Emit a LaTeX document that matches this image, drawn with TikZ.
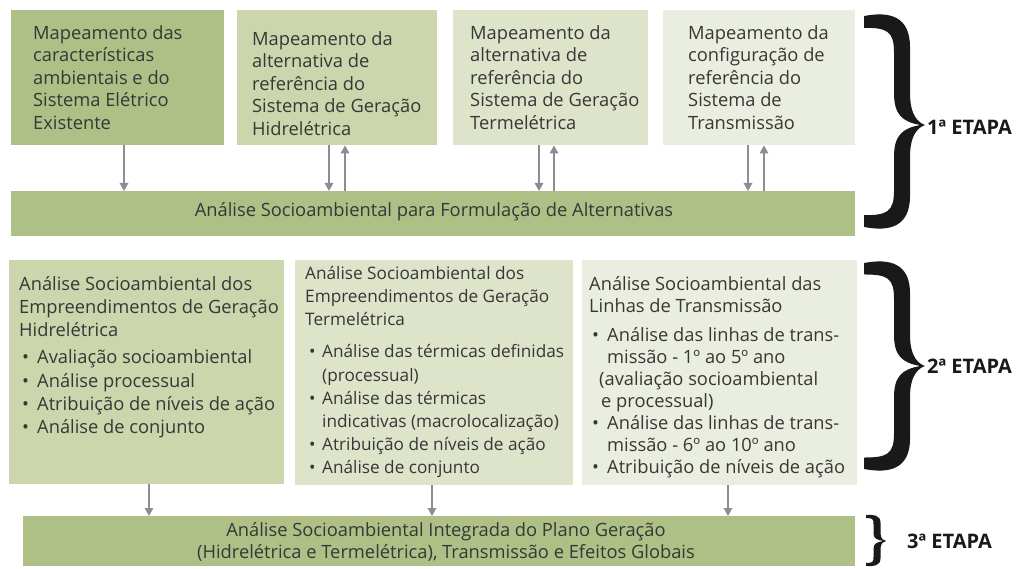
\documentclass[tikz,border=0pt]{standalone}
\usepackage{fontspec}
\setmainfont{Open Sans}
\usetikzlibrary{arrows.meta}
\definecolor{gA}{RGB}{174,192,134}
\definecolor{gB}{RGB}{203,214,173}
\definecolor{gC}{RGB}{221,228,202}
\definecolor{gD}{RGB}{234,238,224}
\definecolor{arrc}{RGB}{140,140,148}
\definecolor{tc}{RGB}{55,55,55}
\newcommand\blt[2]{\hspace*{#1pt}\makebox[#2pt][l]{•}}
\newcommand\drawbrace[7]{% xl xs xp T M B w
  \pgfmathsetmacro\bL{#1}\pgfmathsetmacro\bS{#2}\pgfmathsetmacro\bP{#3}%
  \pgfmathsetmacro\bT{#4}\pgfmathsetmacro\bM{#5}\pgfmathsetmacro\bB{#6}%
  \pgfmathsetmacro\bW{#7/2}\pgfmathsetmacro\bH{(#6-#4)/2}%
  \pgfmathsetmacro\bO{\bS+\bW}\pgfmathsetmacro\bI{\bS-\bW}%
  \pgfmathsetmacro\bD{\bS-\bL}%
  \fill[black!90] ({\bL},{\bT+0.01*\bH})
    .. controls ({\bL+0.7*\bD},{\bT-0.04*\bH}) and ({\bO},{\bT+0.02*\bH}) .. ({\bO},{\bT+0.3*\bH})
    -- ({\bO},{\bM-0.3*\bH})
    .. controls ({\bO},{\bM-0.08*\bH}) and ({\bP-0.4*(\bP-\bO)},{\bM-0.02*\bH}) .. ({\bP},{\bM})
    .. controls ({\bP-0.4*(\bP-\bO)},{\bM+0.02*\bH}) and ({\bO},{\bM+0.08*\bH}) .. ({\bO},{\bM+0.3*\bH})
    -- ({\bO},{\bB-0.3*\bH})
    .. controls ({\bO},{\bB-0.02*\bH}) and ({\bL+0.7*\bD},{\bB+0.04*\bH}) .. ({\bL},{\bB-0.01*\bH})
    -- ({\bL},{\bB-0.12*\bH})
    .. controls ({\bL+0.6*\bD},{\bB-0.12*\bH}) and ({\bI},{\bB-0.15*\bH}) .. ({\bI},{\bB-0.35*\bH})
    -- ({\bI},{\bM+0.3*\bH})
    .. controls ({\bI},{\bM+0.1*\bH}) and ({\bS},{\bM+0.03*\bH}) .. ({\bP-0.3*(\bP-\bO)},{\bM})
    .. controls ({\bS},{\bM-0.03*\bH}) and ({\bI},{\bM-0.1*\bH}) .. ({\bI},{\bM-0.3*\bH})
    -- ({\bI},{\bT+0.35*\bH})
    .. controls ({\bI},{\bT+0.15*\bH}) and ({\bL+0.6*\bD},{\bT+0.12*\bH}) .. ({\bL},{\bT+0.12*\bH})
    -- cycle;%
}
\begin{document}
\begin{tikzpicture}[x=1pt,y=-1pt,
  box/.style={draw=none,anchor=north west,inner sep=0pt},
  txt/.style={anchor=north west,inner sep=0pt,align=left,text=tc,
    font=\fontsize{18.3}{22.5}\selectfont},
  ctxt/.style={inner sep=0pt,align=center,text=tc,
    font=\fontsize{18.3}{22.5}\selectfont},
  lbl/.style={anchor=west,inner sep=0pt,text=black!90,
    font=\fontsize{20}{22}\selectfont\bfseries},
  arr/.style={draw=arrc,line width=1.6pt,-{Triangle[length=8pt,width=8.5pt]}}]
\useasboundingbox (0,0) rectangle (1018,569);
% top row boxes
\node[box,fill=gA,minimum width=213pt,minimum height=135pt] (b1) at (11,10) {};
\node[box,fill=gB,minimum width=200pt,minimum height=135pt] (b2) at (237,10) {};
\node[box,fill=gC,minimum width=195pt,minimum height=135pt] (b3) at (453,10) {};
\node[box,fill=gD,minimum width=192pt,minimum height=135pt] (b4) at (663,10) {};
\node[txt] (t1) at (33,25) {Mapeamento das\\características\\ambientais e do\\Sistema Elétrico\\Existente};
\node[txt] (t2) at (252,31) {Mapeamento da\\alternativa de\\referência do\\Sistema de Geração\\Hidrelétrica};
\node[txt] (t3) at (470,25) {Mapeamento da\\alternativa de\\referência do\\Sistema de Geração\\Termelétrica};
\node[txt] (t4) at (688,25) {Mapeamento da\\configuração de\\referência do\\Sistema de\\Transmissão};
% bar 1
\node[box,fill=gA,minimum width=844pt,minimum height=45pt] (bar1) at (11,191) {};
\node[ctxt] (bt1) at (434,212) {Análise Socioambiental para Formulação de Alternativas};
% arrows top
\coordinate (x1) at (124,0);
\coordinate (x2a) at (329,0); \coordinate (x2b) at (345,0);
\coordinate (x3a) at (539,0); \coordinate (x3b) at (554,0);
\coordinate (x4a) at (748,0); \coordinate (x4b) at (764,0);
\draw[arr] (b1.south -| x1) -- (bar1.north -| x1);
\draw[arr] (b2.south -| x2a) -- (bar1.north -| x2a);
\draw[arr] (bar1.north -| x2b) -- (b2.south -| x2b);
\draw[arr] (b3.south -| x3a) -- (bar1.north -| x3a);
\draw[arr] (bar1.north -| x3b) -- (b3.south -| x3b);
\draw[arr] (b4.south -| x4a) -- (bar1.north -| x4a);
\draw[arr] (bar1.north -| x4b) -- (b4.south -| x4b);
% second row
\node[box,fill=gB,minimum width=275pt,minimum height=224pt] (ra) at (9,260) {};
\node[box,fill=gC,minimum width=278pt,minimum height=225pt] (rb) at (295,260) {};
\node[box,fill=gD,minimum width=275pt,minimum height=225pt] (rc) at (582,260) {};
\node[txt,font=\fontsize{18.3}{23.2}\selectfont] (ta) at (19,276) {Análise Socioambiental dos\\Empreendimentos de Geração\\Hidrelétrica\\[4pt]
\blt{3}{15}Avaliação socioambiental\\
\blt{3}{15}Análise processual\\
\blt{3}{15}Atribuição de níveis de ação\\
\blt{3}{15}Análise de conjunto};
\node[txt,font=\fontsize{17.2}{23.2}\selectfont] (tb) at (305,266) {Análise Socioambiental dos\\Empreendimentos de Geração\\Termelétrica\\[9pt]
\blt{4}{13}Análise das térmicas definidas\\
\hspace*{17pt}(processual)\\
\blt{4}{13}Análise das térmicas\\
\hspace*{17pt}indicativas (macrolocalização)\\
\blt{4}{13}Atribuição de níveis de ação\\
\blt{4}{13}Análise de conjunto};
\node[txt,font=\fontsize{18.3}{22}\selectfont] (tc) at (589,276) {Análise Socioambiental das\\Linhas de Transmissão\\[7pt]
\blt{3}{15}Análise das linhas de trans-\\
\hspace*{18pt}missão - 1º ao 5º ano\\
\hspace*{10pt}(avaliação socioambiental\\
\hspace*{12pt}e processual)\\
\blt{3}{15}Análise das linhas de trans-\\
\hspace*{18pt}missão - 6º ao 10º ano\\
\blt{3}{15}Atribuição de níveis de ação};
% bar 3
\node[box,fill=gA,minimum width=832pt,minimum height=50pt] (bar3) at (23,516) {};
\node[ctxt,font=\fontsize{18.3}{22.5}\selectfont] (bt3) at (446,542) {Análise Socioambiental Integrada do Plano Geração\\(Hidrelétrica e Termelétrica), Transmissão e Efeitos Globais};
\coordinate (xa) at (149,0); \coordinate (xb) at (432,0); \coordinate (xc) at (728,0);
\draw[arr] (ra.south -| xa) -- (bar3.north -| xa);
\draw[arr] (rb.south -| xb) -- (bar3.north -| xb);
\draw[arr] (rc.south -| xc) -- (bar3.north -| xc);
% braces
\drawbrace{864}{902}{925}{15}{125}{228}{16}
\drawbrace{864}{902}{925}{262}{366}{470}{16}
\drawbrace{866}{877}{886}{515}{541}{566}{7}
\node[lbl] (e1) at (927,127) {1ª ETAPA};
\node[lbl] (e2) at (927,366) {2ª ETAPA};
\node[lbl] (e3) at (907,541) {3ª ETAPA};
\end{tikzpicture}
\end{document}
